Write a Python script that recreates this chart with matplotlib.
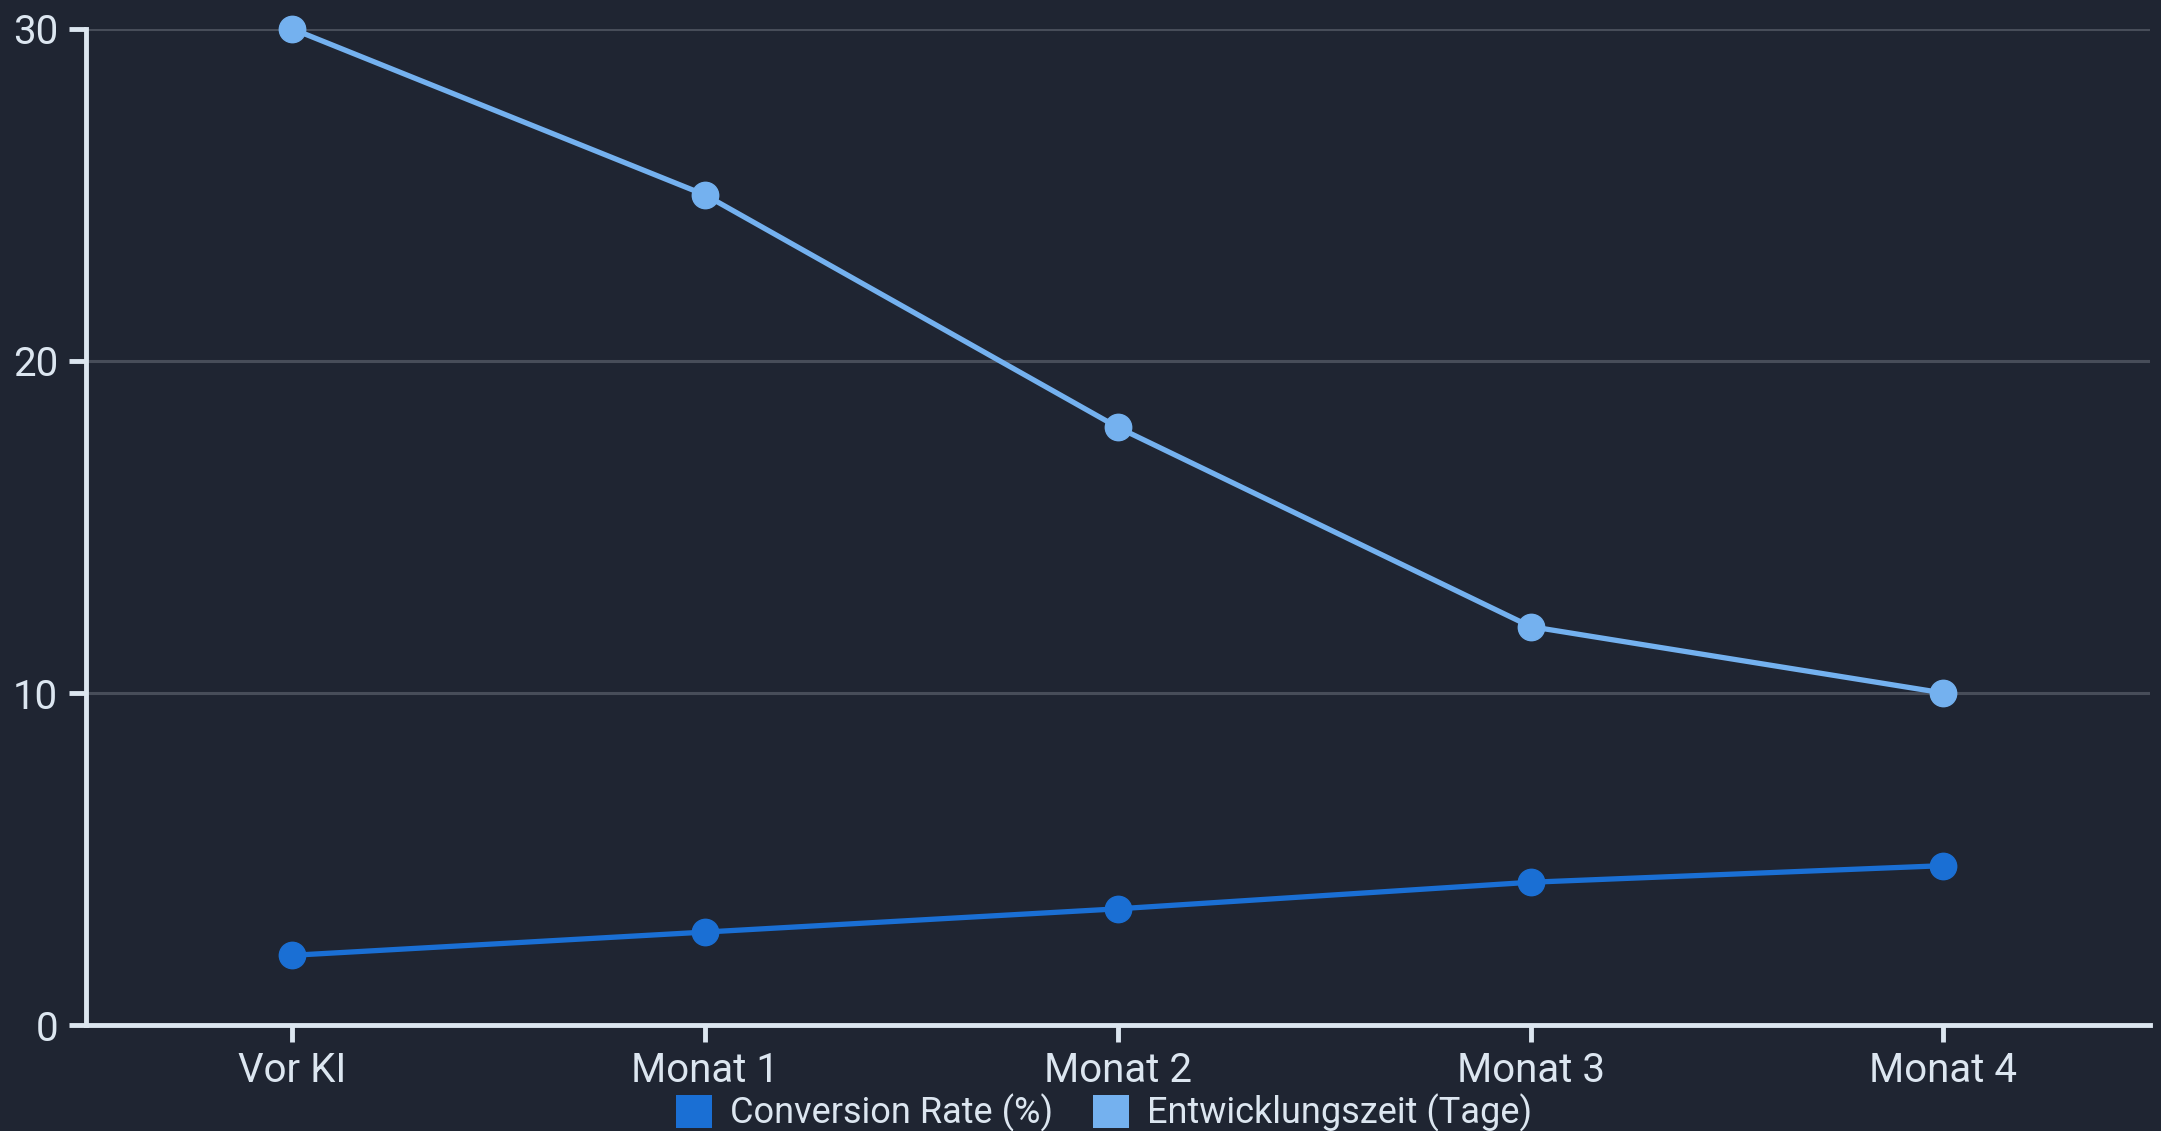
import matplotlib.pyplot as plt
from matplotlib.patches import Patch

# data
categories = ['Vor KI', 'Monat 1', 'Monat 2', 'Monat 3', 'Monat 4']
conversion_rate = [2.1, 2.8, 3.5, 4.3, 4.8]
entwicklungszeit = [30, 25, 18, 12, 10]
y_ticks = [0, 10, 20, 30]

BG = '#1f2532'
FG = '#dce6f0'
GRID = '#474d59'
DARK_BLUE = '#1a6fd4'
LIGHT_BLUE = '#74b1ef'

plt.rcParams['font.family'] = ['Roboto', 'DejaVu Sans']

fig = plt.figure(figsize=(21.61, 11.31), dpi=100, facecolor=BG)
ax = fig.add_axes([0.0398, 0.0937, 0.955, 0.8807], facecolor=BG)

x = range(len(categories))
ax.plot(x, conversion_rate, color=DARK_BLUE, linewidth=3.8, marker='o',
        markersize=19, zorder=3, clip_on=False)
ax.plot(x, entwicklungszeit, color=LIGHT_BLUE, linewidth=3.8, marker='o',
        markersize=19, zorder=3, clip_on=False)

ax.set_xlim(-0.5, 4.5)
ax.set_ylim(0, 30)
ax.set_xticks(list(x))
ax.set_xticklabels(categories)
ax.set_yticks(y_ticks)

ax.grid(axis='y', color=GRID, linewidth=2.2)
ax.set_axisbelow(True)

for side in ['top', 'right']:
    ax.spines[side].set_visible(False)
for side in ['left', 'bottom']:
    ax.spines[side].set_color(FG)
    ax.spines[side].set_linewidth(3.5)

ax.tick_params(axis='both', colors=FG, labelsize=29, width=3.5, length=12)
ax.tick_params(axis='y', pad=8)
ax.tick_params(axis='x', pad=7)

handles = [Patch(facecolor=DARK_BLUE, label='Conversion Rate (%)'),
           Patch(facecolor=LIGHT_BLUE, label='Entwicklungszeit (Tage)')]
fig.legend(handles=handles, loc='lower center', bbox_to_anchor=(0.511, -0.03),
           ncol=2, frameon=False, fontsize=26, labelcolor=FG,
           handlelength=1.0, handleheight=1.0, handletextpad=0.5,
           columnspacing=1.1)

fig.savefig('out.png', dpi=100, facecolor=BG)
